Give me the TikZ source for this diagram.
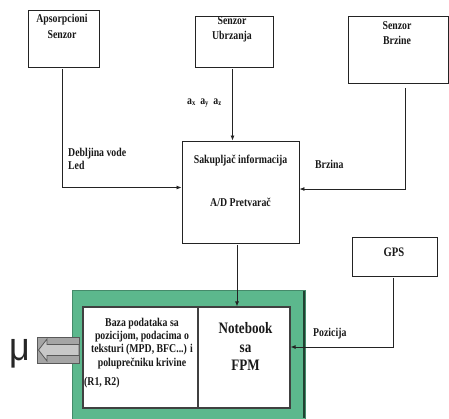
\documentclass[tikz,border=0pt]{standalone}
\usepackage{fontspec}
\setmainfont{Liberation Serif}
\newfontfamily\cond{Liberation Serif}[FakeStretch=0.82]
\newfontfamily\mufont{Liberation Sans}[FakeStretch=0.9]
\usetikzlibrary{arrows.meta,shadows,calc}
\definecolor{boxgreen}{RGB}{92,184,141}
\definecolor{linegray}{RGB}{35,35,35}
\definecolor{argray}{RGB}{165,165,165}
\definecolor{arlight}{RGB}{200,200,200}
\begin{document}
\begin{tikzpicture}[x=1bp,y=-1bp,
  box/.style={draw=linegray, line width=0.9bp, fill=white, inner sep=0pt,
    drop shadow={shadow xshift=0.5bp, shadow yshift=-1.4bp, opacity=1, fill=linegray}},
  lbl/.style={font=\cond\bfseries\fontsize{12}{15}\selectfont, align=center, inner sep=0pt, text=black!90},
  conn/.style={draw=linegray, line width=0.8bp},
  arr/.style={conn, -{Latex[length=5bp,width=4bp]}},
]
\useasboundingbox (0,0) rectangle (449,418);

% sensor boxes
\node[box, minimum width=71bp, minimum height=57bp] (aps) at (63.5,38.5) {};
\node[lbl, anchor=north, font=\cond\bfseries\fontsize{12}{17}\selectfont] (apst) at (62,13.5) {Apsorpcioni\\Senzor};

\node[box, minimum width=78bp, minimum height=51bp] (ubr) at (234,41.5) {};
\node[lbl, anchor=north] (ubrt) at (232,16.5) {Senzor\\Ubrzanja};

\node[box, minimum width=100bp, minimum height=67bp] (brz) at (398,49.5) {};
\node[lbl, anchor=north] (brzt) at (397,21.5) {Senzor\\Brzine};

% collector
\node[box, minimum width=117bp, minimum height=102bp] (sak) at (240.5,192) {};
\node[lbl, anchor=base] (sakt1) at (240.5,163) {Sakuplja\v{c} informacija};
\node[lbl, anchor=base] (sakt2) at (240.5,206) {A/D Pretvara\v{c}};

% GPS
\node[box, minimum width=85bp, minimum height=39bp] (gps) at (394.5,256.5) {};
\node[lbl, anchor=base, font=\cond\bfseries\fontsize{13}{15}\selectfont] (gpst) at (394,256) {GPS};

% green frame
\node[fill=boxgreen, draw=boxgreen!75!black, line width=0.5bp, minimum width=233bp, minimum height=140bp, inner sep=0pt] (frame) at (188.5,360) {};
\draw[boxgreen!35!black, line width=1.6bp] (304,291) -- (304,418);

\node[box, draw=black!75, line width=1.2bp, minimum width=115bp, minimum height=101bp] (baza) at (140.5,357.5) {};
\node[box, draw=black!75, line width=1.2bp, minimum width=92bp, minimum height=101bp] (nb) at (244,357.5) {};

\node[lbl, anchor=north, font=\cond\bfseries\fontsize{12}{13.5}\selectfont] (bazat) at (142,317.5)
  {Baza podataka sa\\pozicijom, podacima o\\teksturi (MPD, BFC...) i\\polupre\v{c}niku krivine};
\node[lbl, anchor=base west] (bazar) at (84,385) {(R1, R2)};
\node[lbl, anchor=north, font=\cond\bfseries\fontsize{16}{18.5}\selectfont] (nbt) at (245.5,322.5) {Notebook\\sa\\FPM};

% mu and grey arrow
\node[fill=argray, draw=black!65, line width=0.8bp, minimum width=42bp, minimum height=26bp, inner sep=0pt] (muarr) at (58,350) {};
\path[fill=arlight, draw=black!65, line width=0.8bp]
  (38.5,350) -- (47,339) -- (47,344.5) -- (79,344.5) -- (79,355.5) -- (47,355.5) -- (47,361) -- cycle;
\node[anchor=base, inner sep=0pt, font=\mufont\fontsize{40}{40}\selectfont, text=black!85] (mu) at (19.5,360) {μ};

% connectors
\draw[arr] ($(aps.south)+(-1.5,1.5)$) |- ($(sak.west)+(0,-4.5)$);
\coordinate (ubrout) at ($(ubr.south)+(-1.5,1.5)$);
\draw[arr] (ubrout) -- (ubrout |- sak.north);
\draw[arr] ($(brz.south)+(7,5)$) |- ($(sak.east)+(0,-3)$);
\coordinate (sakout) at ($(sak.south)+(-3.5,1.5)$);
\draw[arr] (sakout) -- (sakout |- nb.north);
\draw[arr] ($(gps.south)+(-1.5,1.5)$) |- ($(nb.east)+(0,-10.5)$);

% connector labels
\node[lbl, anchor=north west, align=left, font=\cond\bfseries\fontsize{12}{14}\selectfont] (debl) at (68,147.5) {Debljina vode\\Led};
\node[lbl, anchor=base west] (brzl) at (315,168) {Brzina};
\node[lbl, anchor=base west] (pozl) at (313,336) {Pozicija};
\node[lbl, anchor=base west, font=\cond\bfseries\fontsize{12}{12}\selectfont] (axl) at (187,104)
  {a\textsubscript{x} \,a\textsubscript{y} \,a\textsubscript{z}};
\end{tikzpicture}
\end{document}
